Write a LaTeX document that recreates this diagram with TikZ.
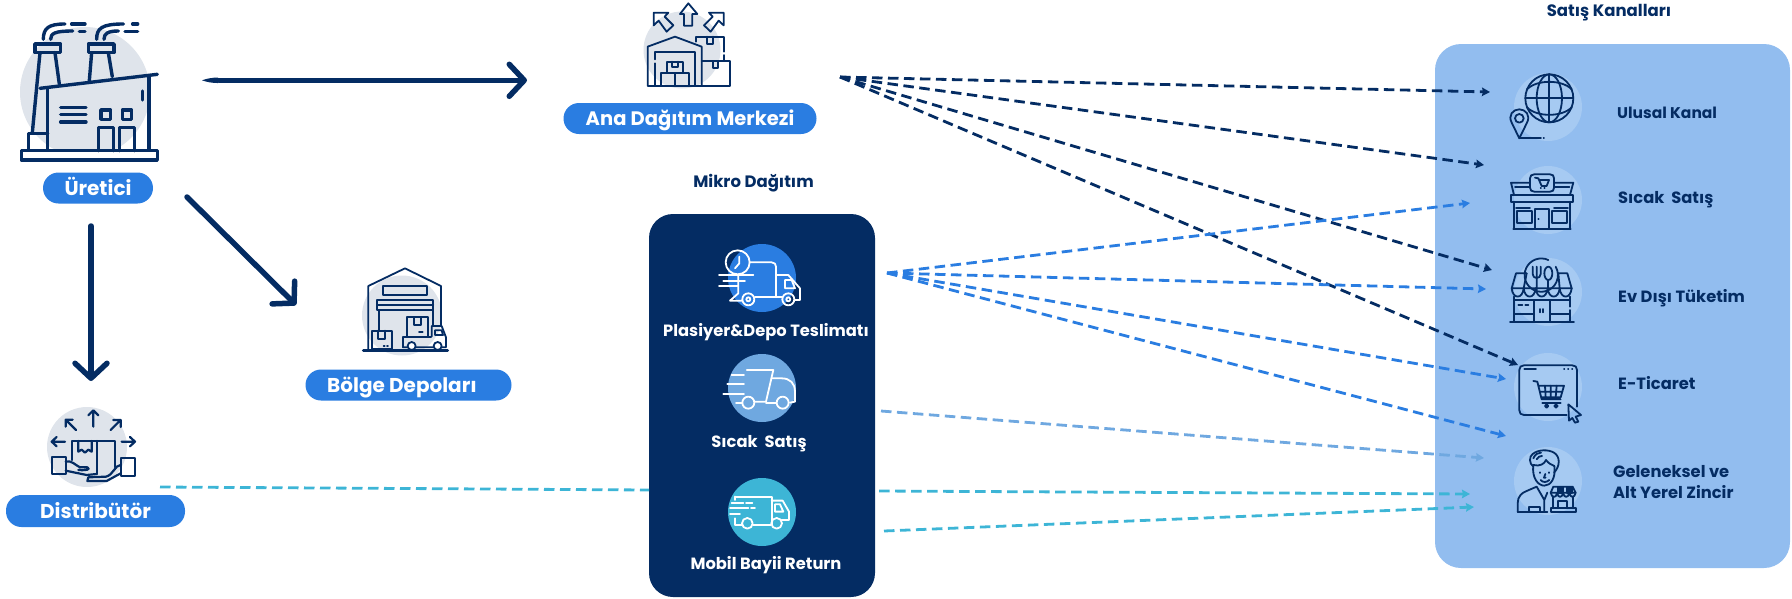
\documentclass[tikz,border=0pt]{standalone}
\usepackage{fontspec}
\setmainfont{Poppins}
\usetikzlibrary{arrows.meta}
\definecolor{navy}{HTML}{042C63}
\definecolor{pillblue}{HTML}{2A7DE1}
\definecolor{midblue}{HTML}{6FA8E0}
\definecolor{teal}{HTML}{3DB5D6}
\definecolor{panelblue}{HTML}{92BDEF}
\definecolor{panelcircle}{HTML}{A6CAF2}
\definecolor{softgrey}{HTML}{DFE4EB}
\tikzset{
  zoomed/.style 2 args={shift={(#1,#2)},x=0.3333pt,y=-0.3333pt},
  icon/.style={draw=navy,line width=1.8pt,line cap=round,line join=round},
  iconheavy/.style={draw=navy,line width=3.4pt,line cap=round,line join=round},
  iconwhite/.style={draw=white,line width=1.8pt,line cap=round,line join=round},
  pill/.style={fill=pillblue,rounded corners=15.5pt,inner sep=0pt,text height=14pt,text depth=0pt,text=white,font=\fontsize{20}{24}\selectfont\bfseries},
  paneltext/.style={anchor=west,inner sep=0pt,text height=11.5pt,text depth=0pt,text=navy,font=\fontsize{16.3}{20}\selectfont\bfseries},
  darktext/.style={inner sep=0pt,text height=11.5pt,text depth=0pt,text=white,font=\fontsize{16.3}{20}\selectfont\bfseries},
  headtext/.style={inner sep=0pt,text height=11.5pt,text depth=0pt,text=navy,font=\fontsize{16.5}{20}\selectfont\bfseries},
  bigarrow/.style={draw=navy,line width=5.5pt,line cap=round,-{Straight Barb[length=15pt,width=32pt,round]}},
  dasharrow/.style={line width=2.8pt,dash pattern=on 10.5pt off 5.5pt,-{Stealth[length=8pt,width=8.5pt,inset=1pt]}},
  dashplain/.style={line width=2.8pt,dash pattern=on 10.5pt off 5.5pt},
}
\begin{document}
\begin{tikzpicture}[x=1pt,y=-1pt]
\useasboundingbox (0,0) rectangle (1792,598);

% panels
\node[fill=navy,rounded corners=24pt,minimum width=226pt,minimum height=383pt,inner sep=0pt] (micro) at (762,405.5) {};
\node[fill=panelblue,rounded corners=26pt,minimum width=355pt,minimum height=524pt,inner sep=0pt] (channels) at (1612.5,306) {};

% circles behind icons
\fill[softgrey] (85,92) circle (65);
\fill[softgrey] (87,447) circle (40);
\fill[softgrey] (682,50) circle (38.5);
\fill[softgrey] (402,315.5) circle (40);
\fill[pillblue] (762,278) circle (34);
\fill[midblue] (762,388) circle (34);
\fill[teal] (762,512) circle (34);
\foreach \cy in {107,200,292,387,481} \fill[panelcircle] (1548,\cy) circle (34);

% factory
\begin{scope}[zoomed={0}{0}]
  \draw[iconheavy] (130,118) .. controls (130,85) and (145,72) .. (195,72);
  \draw[iconheavy] (152,118) .. controls (152,100) and (165,93) .. (218,93);
  \draw[iconheavy] (215,72) -- (255,72) (238,95) -- (255,95);
  \draw[iconheavy] (290,118) .. controls (290,85) and (305,72) .. (370,72);
  \draw[iconheavy] (312,118) .. controls (312,100) and (325,93) .. (355,93);
  \draw[iconheavy] (375,95) -- (413,95) (398,72) -- (413,72);
  \draw[iconheavy] (105,132) rectangle (182,158);
  \draw[iconheavy] (265,132) rectangle (342,158);
  \draw[iconheavy] (120,158) -- (97,398) (165,158) -- (178,252);
  \draw[iconheavy] (275,158) -- (268,242) (325,158) -- (337,230);
  \draw[iconheavy] (120,265) -- (472,223);
  \draw[iconheavy] (143,268) -- (143,452) (447,230) -- (447,452);
  \draw[iconheavy] (143,400) -- (85,400) -- (85,452);
  \draw[iconheavy,fill=white] (64,452) rectangle (472,480);
  \draw[iconheavy] (182,322) -- (258,322) (182,344) -- (258,344) (182,366) -- (258,366);
  \draw[iconheavy] (303,330) rectangle (332,358) (367,330) rectangle (395,358);
  \draw[iconheavy] (295,452) -- (295,383) -- (340,383) -- (340,452);
  \draw[iconheavy] (358,452) -- (358,383) -- (404,383) -- (404,452);
  \draw[iconheavy] (427,273) -- (427,300);
\end{scope}

% distributor
\begin{scope}[zoomed={0}{380}]
  \begin{scope}[icon,line width=2.2pt]
  \draw (280,140) -- (280,92) (265,106) -- (280,91) -- (295,106);
  \draw (228,150) -- (197,119) (197,140) -- (197,119) -- (218,119);
  \draw (332,150) -- (362,120) (340,120) -- (362,120) -- (362,141);
  \draw (195,185) -- (155,185) (170,171) -- (155,185) -- (170,199);
  \draw (365,185) -- (405,185) (390,171) -- (405,185) -- (390,199);
  \draw (215,240) -- (215,183) -- (345,183) -- (345,262);
  \draw (290,183) -- (290,282);
  \draw (235,183) -- (235,215) -- (245,209) -- (255,218) -- (265,209) -- (275,215) -- (275,183);
  \draw (155,232) rectangle (197,283);
  \draw (362,235) rectangle (405,288);
  \draw (197,245) .. controls (215,240) and (225,255) .. (240,262) -- (262,262) .. controls (272,268) and (262,272) .. (235,270);
  \draw (197,272) -- (260,285) -- (290,282);
  \draw (362,255) .. controls (345,255) and (340,285) .. (318,290) -- (265,292) -- (262,303) -- (320,303) -- (362,280);
  \end{scope}
\end{scope}

% main distribution centre
\begin{scope}[zoomed={550}{0}]
  \begin{scope}[icon]
  \draw (415,10) -- (442,42) -- (427,42) -- (427,77) -- (402,77) -- (402,42) -- (390,42) -- cycle;
  \draw (521,38) -- (521,76) -- (506,62) -- (482,95) -- (462,76) -- (488,50) -- (477,38) -- cycle;
  \draw (311,38) -- (311,76) -- (326,62) -- (350,95) -- (370,76) -- (344,50) -- (355,38) -- cycle;
  \draw (293,258) -- (293,140) -- (375,110) -- (455,140) -- (455,258) -- cycle;
  \draw (315,258) -- (315,190) (315,178) -- (315,155) -- (435,155) -- (435,258);
  \draw (352,185) rectangle (398,220) (332,220) rectangle (375,258) (375,220) rectangle (417,258);
  \draw (366,185) -- (366,200) -- (385,200) -- (385,185);
  \draw (455,183) -- (540,183) -- (540,258) -- (455,258);
  \draw (488,183) -- (488,205) -- (505,205) -- (505,183);
  \draw (437,125) -- (437,110) -- (522,110) -- (522,155) (522,165) -- (522,183);
  \draw (472,110) -- (472,133) -- (488,133) -- (488,110);
  \end{scope}
\end{scope}

% regional depots
\begin{scope}[zoomed={340}{250}]
  \begin{scope}[icon]
  \draw (85,300) -- (85,108) -- (195,55) -- (303,108) -- (303,225);
  \draw (130,107) rectangle (262,135);
  \draw (112,150) rectangle (280,180) (112,165) -- (280,165);
  \draw (117,180) -- (117,240) (280,180) -- (280,225);
  \draw (97,242) rectangle (157,298);
  \draw (115,242) -- (115,268) -- (135,268) -- (135,242);
  \draw (131,288) -- (134,288) (141,288) -- (144,288);
  \draw (202,202) rectangle (263,260);
  \draw (222,202) -- (222,225) -- (243,225) -- (243,202);
  \draw (237,245) -- (248,245);
  \draw (190,292) -- (190,260) -- (273,260);
  \draw (275,260) -- (275,228) -- (305,228) -- (318,262) -- (318,292) -- (190,292);
  \draw (285,241) -- (305,241) -- (309,255) -- (285,255) -- cycle;
  \draw[fill=white] (215,288) circle (12) (293,288) circle (12);
  \draw[line width=3pt] (70,301) -- (323,301);
  \end{scope}
\end{scope}

% delivery trucks
\begin{scope}[zoomed={640}{210}]
  \begin{scope}[iconwhite]
  \draw (293,157) circle (36);
  \draw (298,140) -- (298,160) -- (285,175);
  \draw (329,157) -- (395,157) .. controls (404,157) and (408,163) .. (408,170) -- (408,262);
  \draw (345,262) -- (425,262);
  \draw (408,195) -- (445,195) -- (480,235) -- (480,270) -- (465,270);
  \draw (435,210) -- (455,210) -- (465,235) -- (435,235) -- cycle;
  \draw (325,268) circle (18) (325,268) circle (6) (445,268) circle (18) (445,268) circle (6);
  \draw (237,195) -- (340,195) (250,212) -- (315,212) (237,228) -- (295,228);
  \draw (295,195) -- (295,250) -- (270,272) -- (305,272);

  \draw (275,495) -- (312,495) (262,522) -- (312,522) (250,552) -- (312,552);
  \draw (320,480) -- (400,480) -- (378,575) -- (345,575);
  \draw (395,505) -- (425,505) .. controls (450,505) and (465,520) .. (465,545) -- (465,575) -- (450,578);
  \draw (288,578) -- (305,578) (378,578) -- (408,578);
  \draw (325,578) circle (18) (428,578) circle (18);

  \draw (285,860) -- (395,860) -- (395,945) (285,925) -- (285,945) -- (305,945) (285,860) -- (285,870);
  \draw (395,872) -- (428,872) -- (447,905) -- (447,930) -- (425,930);
  \draw (340,945) -- (392,945);
  \draw (322,940) circle (16) (410,940) circle (16);
  \draw (275,878) -- (310,878) (318,878) -- (337,878) (270,895) -- (325,895) (333,895) -- (345,895) (270,912) -- (300,912);
  \draw (405,883) -- (420,883) -- (430,905) -- (405,905) -- cycle;
  \end{scope}
\end{scope}

% national channel and hot sale shop
\begin{scope}[zoomed={1430}{40}]
  \begin{scope}[icon]
  \draw (358,175) circle (72);
  \draw (358,175) ellipse (38 and 72);
  \draw (286,175) -- (430,175) (358,103) -- (358,247);
  \draw (291,148) .. controls (320,118) and (396,118) .. (425,148);
  \draw (291,202) .. controls (320,232) and (396,232) .. (425,202);
  \draw (268,295) -- (246,250) .. controls (232,225) and (250,208) .. (268,208) .. controls (286,208) and (304,225) .. (290,250) -- cycle;
  \draw (268,235) circle (13);
  \draw (268,295) -- (333,295) (341,295) -- (342,295);

  \draw (313,403) -- (360,403) .. controls (368,403) and (372,407) .. (372,415) -- (372,443) .. controls (372,451) and (368,455) .. (360,455) -- (313,455) .. controls (305,455) and (300,451) .. (300,443) -- (300,415) .. controls (300,407) and (305,403) .. (313,403) -- cycle;
  \draw (315,413) -- (325,415) -- (335,438) -- (350,438) -- (357,420) -- (328,420);
  \draw (332,445) -- (333,445) (343,445) -- (344,445);
  \draw (300,428) -- (243,428) -- (252,465) (372,428) -- (430,428) -- (420,465);
  \draw (255,440) -- (300,440) (372,440) -- (418,440);
  \draw (243,465) rectangle (430,485);
  \draw (252,485) -- (252,567) (420,485) -- (420,567) (250,567) -- (422,567);
  \draw (258,503) -- (300,503) (372,503) -- (414,503);
  \draw (262,513) rectangle (305,550) (367,513) rectangle (410,550);
  \draw (316,567) -- (316,507) -- (357,507) -- (357,567);
  \draw (325,537) -- (326,537);
  \end{scope}
\end{scope}

% out-of-home shop
\begin{scope}[zoomed={1490}{240}]
  \begin{scope}[icon]
  \draw (175,60) arc[start angle=-65,end angle=-390,radius=50];
  \draw (65,145) -- (78,100) -- (110,100) (205,100) -- (232,100) -- (245,145) -- (65,145);
  \draw (110,100) -- (101,145) (205,100) -- (209,145);
  \draw (65,145) .. controls (68,178) and (98,178) .. (101,145);
  \draw (101,145) .. controls (104,178) and (134,178) .. (137,145);
  \draw (137,145) .. controls (140,178) and (170,178) .. (173,145);
  \draw (173,145) .. controls (176,178) and (206,178) .. (209,145);
  \draw (209,145) .. controls (212,178) and (242,178) .. (245,145);
  \draw (128,80) -- (128,102) .. controls (128,118) and (152,118) .. (152,102) -- (152,80) (140,80) -- (140,150);
  \draw (175,100) ellipse (12 and 20);
  \draw (175,120) -- (175,155);
  \draw (72,170) -- (72,245) (240,170) -- (240,200) (240,210) -- (240,245) (60,245) -- (252,245);
  \draw (72,180) -- (240,180) (132,180) -- (132,245) (180,180) -- (180,245);
  \draw (72,222) -- (132,222) (180,222) -- (240,222);
  \draw[dash pattern=on 4pt off 3pt] (85,195) -- (115,195);
  \draw (150,207) -- (150,217) (160,207) -- (160,217);
  \end{scope}
\end{scope}

% e-commerce and retailer
\begin{scope}[zoomed={1430}{310}]
  \begin{scope}[icon]
  \draw (410,315) -- (282,315) .. controls (273,315) and (268,310) .. (268,301) -- (268,180) .. controls (268,171) and (273,166) .. (282,166) -- (427,166) .. controls (436,166) and (441,171) .. (441,180) -- (441,290);
  \draw (283,177) -- (318,177);
  \draw (402,178) -- (403,178) (414,178) -- (415,178) (426,178) -- (427,178);
  \draw (310,213) -- (322,215) -- (335,268) -- (392,268) (327,227) -- (402,227) -- (392,262) -- (335,262);
  \draw (330,245) -- (397,245) (345,227) -- (347,262) (362,227) -- (362,262) (380,227) -- (377,262);
  \draw (337,278) -- (392,278);
  \draw (350,288) circle (5) (378,288) circle (5);
  \draw (415,283) -- (453,315) -- (437,320) -- (445,335) -- (435,338) -- (427,324) -- (417,332) -- cycle;

  \draw (310,470) .. controls (297,460) and (297,440) .. (308,432) .. controls (325,418) and (355,418) .. (372,428) .. controls (392,440) and (390,470) .. (372,488);
  \draw (310,465) .. controls (305,505) and (325,527) .. (343,527) .. controls (362,527) and (378,505) .. (373,468);
  \draw (310,465) .. controls (330,470) and (343,462) .. (348,450) .. controls (355,460) and (365,465) .. (373,468);
  \draw (310,445) .. controls (315,432) and (325,428) .. (333,428) (320,448) .. controls (324,440) and (330,438) .. (336,438);
  \draw (330,487) -- (330,489) (358,487) -- (358,489);
  \draw (346,492) -- (342,503) -- (347,503);
  \draw (332,510) .. controls (338,518) and (350,518) .. (358,510);
  \draw (263,605) -- (263,580) .. controls (263,560) and (275,548) .. (290,543) -- (320,530) -- (343,570) (352,548) -- (343,570) -- (343,605);
  \draw (263,605) -- (352,605) (298,605) -- (298,592) -- (330,592) -- (330,605);
  \draw (362,548) -- (370,530) -- (428,530) -- (437,548) -- cycle;
  \draw[fill=navy] (385,530) rectangle (398,548) (412,530) rectangle (425,548);
  \draw (370,560) -- (370,595) (428,560) -- (428,595) (385,595) -- (385,572) -- (412,572) -- (412,595);
  \draw (362,548) .. controls (365,565) and (380,565) .. (381,548) .. controls (384,565) and (397,565) .. (399,548) .. controls (402,565) and (415,565) .. (418,548) .. controls (421,565) and (434,565) .. (437,548);
  \draw (362,595) rectangle (437,605);
  \end{scope}
\end{scope}

% labels
\node[pill,minimum width=110pt,minimum height=31pt] (uretici) at (98,188) {Üretici};
\node[pill,minimum width=179pt,minimum height=32pt] (distributor) at (95.5,511) {Distribütör};
\node[pill,font=\fontsize{19.5}{24}\selectfont\bfseries,minimum width=253pt,minimum height=31pt] (ana) at (690,118.5) {Ana Dağıtım Merkezi};
\node[pill,minimum width=206pt,minimum height=31pt] (bolge) at (408.5,385) {Bölge Depoları\hspace*{13pt}};
\node[headtext] (mikro) at (753.5,182) {Mikro Dağıtım};
\node[headtext] (satis) at (1609,10.5) {Satış Kanalları};
\node[darktext] (plasiyer) at (766,330.5) {Plasiyer\&Depo Teslimatı};
\node[darktext] (sicakd) at (759,441.5) {Sıcak\ \ Satış};
\node[darktext] (mobil) at (766,564) {Mobil Bayii Return};
\node[paneltext,font=\fontsize{15.5}{20}\selectfont\bfseries] (ulusal) at (1617,113) {Ulusal Kanal};
\node[paneltext] (sicakp) at (1618,197.5) {Sıcak\ \ Satış};
\node[paneltext] (evdisi) at (1618,296.5) {Ev Dışı Tüketim};
\node[paneltext] (eticaret) at (1618,384) {E-Ticaret};
\node[paneltext] (gel) at (1613,472) {Geleneksel ve};
\node[paneltext] (alt) at (1613,493) {Alt Yerel Zincir};

% connector ends
\coordinate (bigA) at (219,80.3);
\coordinate (bigB) at (527,80.3);
\coordinate (diagA) at (187,197);
\coordinate (diagB) at (296,305);
\coordinate (downA) at (91,226);
\coordinate (downB) at (91,381);
\coordinate (darkS) at (840,77);
\coordinate (blueS) at (887,273);
\coordinate (lightS) at (881,411);
\coordinate (tealS) at (879,491);
\coordinate (tealT) at (884,531);
\coordinate (distS) at (160,487);
\coordinate (distE) at (649,490);
\coordinate (toUlusal) at (1490,92);
\coordinate (toSicak) at (1484,165);
\coordinate (toEv) at (1492,270);
\coordinate (toEt) at (1518,365);
\coordinate (bToSicak) at (1470,203);
\coordinate (bToEv) at (1486,289);
\coordinate (bToEt) at (1506,379);
\coordinate (bToGel) at (1506,436);
\coordinate (lToGel) at (1484,458);
\coordinate (tToGel) at (1470,494);
\coordinate (ttToGel) at (1474,507);

% thick connectors
\fill[navy] (202,80.3) .. controls (207,78.5) and (212,77.6) .. (218,77.55) -- (218,83.05) .. controls (212,83) and (207,82.1) .. (202,80.3) -- cycle;
\draw[bigarrow] (bigA) -- (bigB);
\draw[bigarrow] (diagA) -- (diagB);
\draw[bigarrow] (downA) -- (downB);

% dashed connectors
\draw[dasharrow,navy] (darkS) -- (toUlusal);
\draw[dasharrow,navy] (darkS) -- (toSicak);
\draw[dasharrow,navy] (darkS) -- (toEv);
\draw[dasharrow,navy] (darkS) -- (toEt);
\draw[dasharrow,pillblue] (blueS) -- (bToSicak);
\draw[dasharrow,pillblue] (blueS) -- (bToEv);
\draw[dasharrow,pillblue] (blueS) -- (bToEt);
\draw[dasharrow,pillblue] (blueS) -- (bToGel);
\draw[dasharrow,midblue] (lightS) -- (lToGel);
\draw[dasharrow,teal] (tealS) -- (tToGel);
\draw[dasharrow,teal] (tealT) -- (ttToGel);
\draw[dashplain,teal] (distS) -- (distE);
\end{tikzpicture}
\end{document}
